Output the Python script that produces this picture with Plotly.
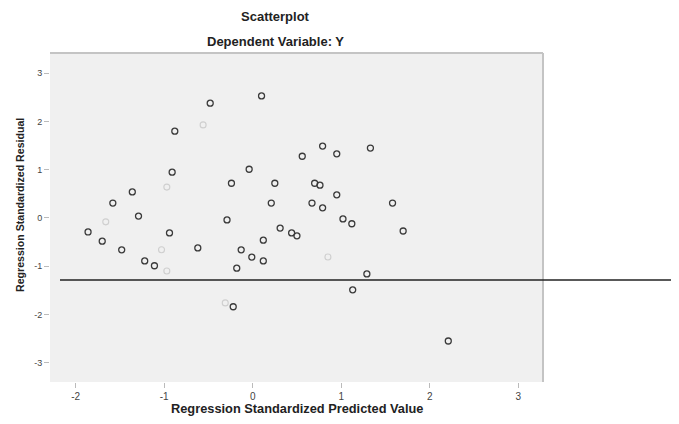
import plotly.graph_objects as go

# Standardized predicted values (x) and standardized residuals (y)
pred_x = [-0.48, 0.10, -0.88, -0.91, 0.79, 0.95, 1.33, 0.56, -0.04, -0.24, 0.25, 0.70, 0.76,
          0.95, -1.36, -1.58, -1.29, -1.86, -1.70, -1.48, -0.94, -0.62, -1.22, -1.11, -0.29,
          0.21, 0.67, 0.79, 1.58, 1.02, 1.12, 1.70, 0.31, 0.44, 0.50, 0.12, -0.13, -0.01,
          0.12, -0.18, 1.29, 1.13, -0.22, 2.21]
resid_y = [2.38, 2.53, 1.80, 0.95, 1.49, 1.33, 1.45, 1.28, 1.01, 0.72, 0.72, 0.72, 0.68,
           0.48, 0.54, 0.31, 0.04, -0.29, -0.48, -0.66, -0.31, -0.62, -0.89, -0.99, -0.04,
           0.31, 0.31, 0.21, 0.31, -0.02, -0.12, -0.27, -0.21, -0.31, -0.37, -0.46, -0.66, -0.81,
           -0.89, -1.04, -1.16, -1.49, -1.84, -2.55]

# Faint (light) points
faint_x = [-0.56, -0.97, -1.66, -0.97, 0.85, -0.31, -1.03]
faint_y = [1.93, 0.64, -0.08, -1.10, -0.81, -1.76, -0.66]

x_ticks = [-2, -1, 0, 1, 2, 3]
y_ticks = [-3, -2, -1, 0, 1, 2, 3]

fig = go.Figure()
fig.add_trace(go.Scatter(
    x=faint_x, y=faint_y, mode="markers",
    marker=dict(symbol="circle-open", size=6, color="#cfcfcf", line=dict(width=1.1)),
    hoverinfo="skip", showlegend=False))
fig.add_trace(go.Scatter(
    x=pred_x, y=resid_y, mode="markers",
    marker=dict(symbol="circle-open", size=6, color="#3a3a3a", line=dict(width=1.3)),
    showlegend=False))

W, H = 679, 424
OFF = 8  # page body margin
L, R, T, B = 50 - OFF, 543 - OFF, 53 - OFF, 382 - OFF
PW, PH = R - L, B - T


def px_x(p):
    return (p - OFF - L) / PW


def px_y(p):
    return 1 - (p - OFF - T) / PH


fig.update_layout(
    width=W, height=H,
    margin=dict(l=L, r=W - R, t=T, b=H - B),
    paper_bgcolor="white",
    plot_bgcolor="#f0f0f0",
    font=dict(family="Liberation Sans, Arial, sans-serif", color="#222", size=10),
    xaxis=dict(range=[-2.29, 3.28], tickvals=x_ticks, ticktext=[str(v) for v in x_ticks],
               showgrid=False, zeroline=False, showline=False,
               ticks="outside", ticklen=5, tickcolor="#bbb", tickfont=dict(size=10, color="#444")),
    yaxis=dict(range=[-3.4, 3.42], tickvals=y_ticks, ticktext=[str(v) for v in y_ticks],
               showgrid=False, zeroline=False, showline=False,
               ticks="outside", ticklen=5, tickcolor="#bbb", tickfont=dict(size=9, color="#444")),
    annotations=[
        dict(text="<b>Scatterplot</b>", xref="paper", yref="paper",
             x=px_x(275), y=px_y(16), showarrow=False,
             xanchor="center", yanchor="middle", font=dict(size=13, color="#222")),
        dict(text="<b>Dependent Variable: Y</b>", xref="paper", yref="paper",
             x=px_x(275), y=px_y(42), showarrow=False,
             xanchor="center", yanchor="middle", font=dict(size=13, color="#222")),
        dict(text="<b>Regression Standardized Predicted Value</b>", xref="paper", yref="paper",
             x=px_x(297), y=px_y(408), showarrow=False,
             xanchor="center", yanchor="middle", font=dict(size=12.8, color="#222")),
        dict(text="<b>Regression Standardized Residual</b>", xref="paper", yref="paper",
             x=px_x(20), y=px_y(205), showarrow=False, textangle=-90,
             xanchor="center", yanchor="middle", font=dict(size=10.6, color="#222")),
    ],
    shapes=[
        dict(type="line", xref="paper", yref="paper", x0=0, x1=1, y0=1, y1=1,
             line=dict(color="#c4c4c4", width=2)),
        dict(type="line", xref="paper", yref="paper", x0=1, x1=1, y0=0, y1=1,
             line=dict(color="#c4c4c4", width=2)),
        dict(type="line", xref="paper", yref="paper",
             x0=px_x(60), x1=px_x(690), y0=px_y(280), y1=px_y(280),
             line=dict(color="#222", width=1.5)),
    ],
)

fig.write_html("out.html")
